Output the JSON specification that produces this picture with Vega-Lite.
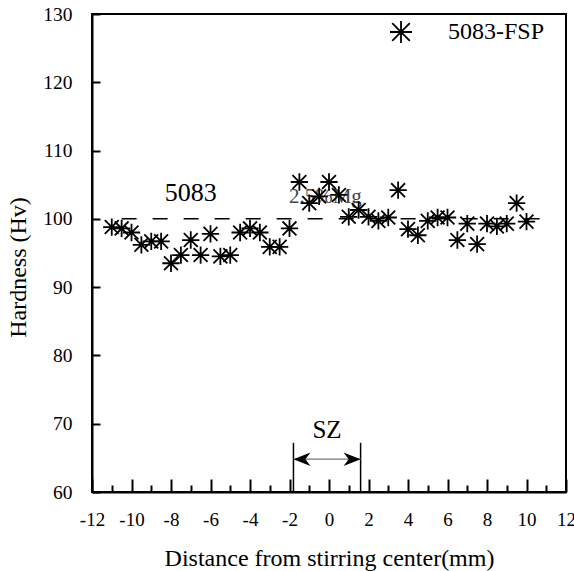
{
  "$schema": "https://vega.github.io/schema/vega-lite/v6.json",
  "width": 474,
  "height": 478,
  "autosize": {"type": "none"},
  "padding": {"left": 92, "top": 14, "right": 8, "bottom": 79},
  "background": "white",
  "config": {
    "font": "Liberation Serif",
    "view": {"stroke": "black", "strokeWidth": 2},
    "axis": {"grid": false, "domainColor": "black", "domainWidth": 2, "tickColor": "black", "tickWidth": 2, "labelColor": "black", "titleColor": "black", "labelFont": "Liberation Serif", "titleFont": "Liberation Serif", "labelFontSize": 19, "titleFontWeight": "normal"}
  },
  "datasets": {
    "hardness": [
      {"x": -11, "y": 98.8, "series": "5083-FSP"},
      {"x": -10.5, "y": 98.6, "series": "5083-FSP"},
      {"x": -10, "y": 98.0, "series": "5083-FSP"},
      {"x": -9.5, "y": 96.2, "series": "5083-FSP"},
      {"x": -9, "y": 96.7, "series": "5083-FSP"},
      {"x": -8.5, "y": 96.7, "series": "5083-FSP"},
      {"x": -8, "y": 93.5, "series": "5083-FSP"},
      {"x": -7.5, "y": 94.7, "series": "5083-FSP"},
      {"x": -7, "y": 96.9, "series": "5083-FSP"},
      {"x": -6.5, "y": 94.7, "series": "5083-FSP"},
      {"x": -6, "y": 97.8, "series": "5083-FSP"},
      {"x": -5.5, "y": 94.5, "series": "5083-FSP"},
      {"x": -5, "y": 94.7, "series": "5083-FSP"},
      {"x": -4.5, "y": 98.0, "series": "5083-FSP"},
      {"x": -4, "y": 98.6, "series": "5083-FSP"},
      {"x": -3.5, "y": 98.0, "series": "5083-FSP"},
      {"x": -3, "y": 95.9, "series": "5083-FSP"},
      {"x": -2.5, "y": 95.9, "series": "5083-FSP"},
      {"x": -2, "y": 98.6, "series": "5083-FSP"},
      {"x": -1.5, "y": 105.4, "series": "5083-FSP"},
      {"x": -1, "y": 102.3, "series": "5083-FSP"},
      {"x": -0.5, "y": 103.3, "series": "5083-FSP"},
      {"x": 0, "y": 105.4, "series": "5083-FSP"},
      {"x": 0.5, "y": 103.5, "series": "5083-FSP"},
      {"x": 1, "y": 100.3, "series": "5083-FSP"},
      {"x": 1.5, "y": 101.3, "series": "5083-FSP"},
      {"x": 2, "y": 100.3, "series": "5083-FSP"},
      {"x": 2.5, "y": 99.7, "series": "5083-FSP"},
      {"x": 3, "y": 100.2, "series": "5083-FSP"},
      {"x": 3.5, "y": 104.2, "series": "5083-FSP"},
      {"x": 4, "y": 98.5, "series": "5083-FSP"},
      {"x": 4.5, "y": 97.6, "series": "5083-FSP"},
      {"x": 5, "y": 99.7, "series": "5083-FSP"},
      {"x": 5.5, "y": 100.2, "series": "5083-FSP"},
      {"x": 6, "y": 100.2, "series": "5083-FSP"},
      {"x": 6.5, "y": 96.9, "series": "5083-FSP"},
      {"x": 7, "y": 99.3, "series": "5083-FSP"},
      {"x": 7.5, "y": 96.3, "series": "5083-FSP"},
      {"x": 8, "y": 99.3, "series": "5083-FSP"},
      {"x": 8.5, "y": 98.9, "series": "5083-FSP"},
      {"x": 9, "y": 99.3, "series": "5083-FSP"},
      {"x": 9.5, "y": 102.3, "series": "5083-FSP"},
      {"x": 10, "y": 99.6, "series": "5083-FSP"}
    ]
  },
  "encoding": {
    "x": {"field": "x", "type": "quantitative", "scale": {"domain": [-12, 12], "nice": false, "zero": false},
      "axis": {"values": [-12, -11, -10, -9, -8, -7, -6, -5, -4, -3, -2, -1, 0, 1, 2, 3, 4, 5, 6, 7, 8, 9, 10, 11, 12],
        "tickSize": {"condition": {"test": "datum.value % 2 === 0", "value": -13}, "value": -7},
        "labelExpr": "datum.value % 2 === 0 ? replace(datum.label, '\u2212', '-') : ''",
        "labelFont": "Liberation Serif", "titleFont": "Liberation Serif", "labelFontSize": 19,
        "labelPadding": 31, "title": "Distance from stirring center(mm)", "titleFontSize": 24, "titlePadding": 11, "labelFlush": false, "labelOverlap": false}},
    "y": {"field": "y", "type": "quantitative", "scale": {"domain": [60, 130], "nice": false, "zero": false},
      "axis": {"values": [60, 70, 80, 90, 100, 110, 120, 130], "tickSize": -8, "labelPadding": 28,
        "labelFont": "Liberation Serif", "titleFont": "Liberation Serif", "labelFontSize": 19.5,
        "title": "Hardness (Hv)", "titleFontSize": 24, "titleY": 253, "titlePadding": 12, "labelFlush": false, "labelOverlap": false}}
  },
  "layer": [
    {
      "data": {"values": [{"x": -10.5, "x2": 11, "y": 100}]},
      "mark": {"type": "rule", "color": "black", "strokeWidth": 1.5, "strokeDash": [15, 16]},
      "encoding": {"x2": {"field": "x2"}}
    },
    {
      "data": {"values": [{"x": -7, "y": 103.8, "label": "5083"}]},
      "mark": {"type": "text", "font": "Liberation Serif", "fontSize": 26, "color": "black", "align": "center", "baseline": "middle"},
      "encoding": {"text": {"field": "label"}}
    },
    {
      "data": {"values": [{"x": -2.03, "y": 103.2, "label": "2.5%Mg"}]},
      "mark": {"type": "text", "font": "Liberation Serif", "fontSize": 21, "color": "#444444", "align": "left", "baseline": "middle"},
      "encoding": {"text": {"field": "label"}}
    },
    {
      "data": {"values": [{"x": -0.1, "y": 69.1, "label": "SZ"}]},
      "mark": {"type": "text", "font": "Liberation Serif", "fontSize": 25, "color": "black", "align": "center", "baseline": "middle"},
      "encoding": {"text": {"field": "label"}}
    },
    {
      "data": {"values": [{"x": -1.8, "y": 60, "y2": 67.2}, {"x": 1.6, "y": 60, "y2": 67.2}]},
      "mark": {"type": "rule", "color": "black", "strokeWidth": 1.5},
      "encoding": {"y2": {"field": "y2"}}
    },
    {
      "data": {"values": [{"x": -1.8, "x2": 1.6, "y": 64.8}]},
      "mark": {"type": "rule", "color": "#777777", "strokeWidth": 1.2},
      "encoding": {"x2": {"field": "x2"}}
    },
    {
      "data": {"values": [{"x": -1.8, "y": 64.8}]},
      "mark": {"type": "point", "shape": "M0,0L2,-0.8L1.4,0L2,0.8Z", "size": 290, "filled": true, "color": "black", "opacity": 1},
      "encoding": {}
    },
    {
      "data": {"values": [{"x": 1.6, "y": 64.8}]},
      "mark": {"type": "point", "shape": "M0,0L-2,-0.8L-1.4,0L-2,0.8Z", "size": 290, "filled": true, "color": "black", "opacity": 1},
      "encoding": {}
    },
    {
      "data": {"name": "hardness"},
      "mark": {"type": "point", "filled": false, "color": "black", "strokeWidth": 1.8, "size": 300, "opacity": 1},
      "encoding": {
        "shape": {"field": "series", "type": "nominal",
          "scale": {"range": ["M-1,0L1,0M0,-1L0,1M-0.8,-0.8L0.8,0.8M-0.8,0.8L0.8,-0.8"]},
          "legend": {"orient": "none", "legendX": 297, "legendY": 6, "title": null, "padding": 0, "symbolSize": 484, "symbolStrokeColor": "black", "symbolStrokeWidth": 1.8, "symbolFillColor": "transparent", "labelFont": "Liberation Serif", "labelFontSize": 24, "labelColor": "black", "labelOffset": 35}}
      }
    }
  ]
}
